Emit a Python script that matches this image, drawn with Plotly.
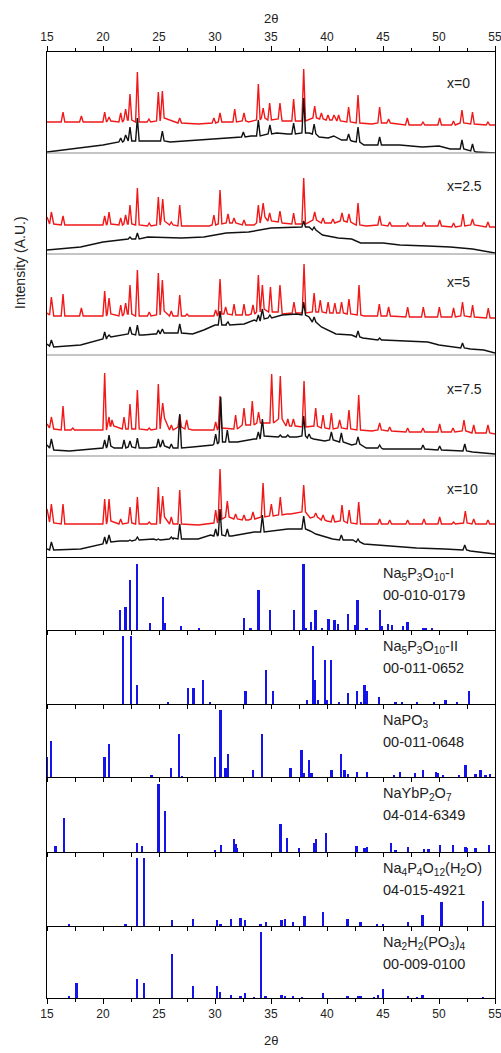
import plotly.graph_objects as go
from plotly.subplots import make_subplots

# ---------------- data ----------------
TICKS = [15, 20, 25, 30, 35, 40, 45, 50, 55]
SAMPLE_LABELS = ["x=0", "x=2.5", "x=5", "x=7.5", "x=10"]

# XRD traces: background points (2theta, I) and peaks (2theta, top, foot)
x0_red_bg = [(15.0, 31), (19.0, 31), (28.5, 29), (33.0, 31), (36.0, 32), (40.5, 32), (44.0, 29), (50.0, 29), (55.0, 28)]
x0_red_pk = [(16.43, 41, 31), (18.07, 37, 31), (20.15, 41, 31), (20.54, 36, 32), (21.58, 40, 31), (22.02, 44, 33),
             (22.41, 59, 33), (23.07, 81, 31), (24.1, 34, 31), (24.94, 61, 32), (25.3, 62, 35), (26.85, 35, 30),
             (29.9, 35, 30), (30.45, 40, 31), (31.76, 44, 31), (32.59, 40, 32), (33.87, 69, 33), (34.3, 45, 35),
             (34.88, 50, 33), (35.8, 50, 34), (37.02, 54, 32), (37.92, 84, 32), (38.9, 47, 35), (39.5, 40, 34),
             (40.09, 38, 33), (40.62, 38, 33), (41.04, 38, 32), (41.93, 46, 31), (42.77, 58, 30), (44.7, 46, 30),
             (45.5, 34, 30), (47.17, 35, 28), (48.57, 31, 28), (50.06, 35, 28), (51.29, 32, 28), (52.05, 43, 30),
             (52.99, 41, 29), (54.37, 31, 28)]
x0_blk_bg = [(15.0, 1), (18.0, 5), (20.0, 8), (21.5, 11), (23.5, 12), (26.0, 11), (28.6, 13), (31.5, 15), (33.2, 17),
             (35.5, 20), (36.5, 19), (38.4, 20), (39.3, 16), (40.1, 15), (40.6, 17), (41.3, 13), (42.2, 12), (43.3, 8),
             (44.3, 8), (46.5, 8), (48.5, 6), (50.0, 7), (51.0, 4), (53.3, 1), (55.0, 0)]
x0_blk_pk = [(21.58, 15, 11), (22.02, 18, 12), (22.41, 26, 12), (23.07, 35, 12), (25.3, 22, 12), (32.53, 21, 16),
             (33.87, 33, 17), (34.9, 28, 19), (37.02, 30, 19), (37.92, 55, 20), (38.85, 29, 19), (41.93, 19, 13),
             (42.77, 26, 11), (44.7, 16, 8), (52.05, 13, 4), (52.99, 9, 2)]

x25_red_bg = [(15.0, 37), (15.6, 30), (17.0, 29), (20.0, 28), (29.5, 28), (33.5, 29), (36.0, 31), (43.5, 28), (55.0, 27)]
x25_red_pk = [(15.39, 42, 30), (16.43, 38, 29), (20.15, 38, 29), (20.54, 42, 30), (21.58, 36, 29), (22.02, 39, 30),
              (22.41, 49, 30), (23.07, 66, 29), (24.13, 31, 28), (24.94, 57, 29), (25.33, 55, 33), (26.1, 32, 29),
              (26.85, 49, 28), (29.9, 39, 29), (30.45, 64, 30), (31.16, 40, 31), (31.7, 36, 31), (32.59, 34, 29),
              (33.87, 49, 31), (34.3, 51, 37), (34.88, 41, 33), (35.8, 43, 32), (37.02, 41, 30), (37.92, 76, 30),
              (38.9, 42, 34), (39.65, 36, 31), (40.53, 35, 31), (41.34, 41, 33), (41.96, 40, 32), (42.77, 51, 29),
              (44.7, 38, 29), (45.6, 32, 28), (47.2, 31, 28), (48.66, 32, 28), (50.06, 34, 28), (51.3, 31, 27),
              (52.14, 40, 28), (52.99, 35, 29), (54.37, 32, 27)]
x25_blk_bg = [(15.0, 4), (18.0, 7), (20.0, 12), (22.0, 15), (24.0, 17), (27.0, 16), (29.0, 17), (31.0, 21), (33.0, 22),
              (35.0, 26), (36.6, 27), (38.4, 27), (39.6, 19), (41.0, 16), (42.2, 15), (43.0, 11), (45.0, 11),
              (46.5, 9), (49.0, 8), (51.0, 7), (53.0, 5), (55.0, 1)]
x25_blk_pk = [(22.41, 17, 15), (23.07, 21, 15), (37.92, 33, 27), (38.85, 27, 24)]

x5_red_bg = [(15.0, 42), (15.6, 39), (17.0, 39), (30.0, 39), (33.0, 40), (36.0, 41), (39.0, 41), (43.3, 39), (55.0, 37)]
x5_red_pk = [(15.39, 58, 40), (16.43, 61, 39), (18.07, 47, 39), (20.15, 64, 39), (20.54, 57, 41), (21.58, 50, 39),
             (22.02, 52, 41), (22.41, 70, 41), (23.07, 85, 39), (24.13, 43, 39), (24.94, 82, 40), (25.3, 75, 44),
             (26.1, 44, 39), (26.85, 60, 39), (27.5, 41, 39), (30.06, 45, 39), (30.45, 76, 41), (30.95, 48, 41),
             (31.7, 51, 40), (32.59, 51, 40), (33.39, 50, 41), (33.87, 80, 43), (34.23, 70, 46), (34.95, 68, 43),
             (35.8, 70, 43), (37.05, 53, 42), (37.95, 91, 42), (38.85, 62, 43), (39.4, 55, 43), (40.1, 53, 42),
             (40.7, 52, 42), (41.3, 53, 42), (41.96, 56, 41), (42.86, 70, 40), (44.67, 51, 39), (45.5, 48, 39),
             (47.2, 48, 38), (48.6, 48, 38), (50.03, 48, 38), (51.3, 47, 38), (52.1, 53, 39), (53.0, 50, 38),
             (54.4, 47, 37)]
x5_blk_bg = [(15.0, 11), (15.6, 8), (18.0, 10), (20.0, 16), (21.2, 19), (22.0, 21), (23.6, 20), (24.6, 21), (26.2, 22),
             (28.0, 21), (29.0, 25), (30.0, 30), (31.0, 31), (32.6, 31), (33.5, 35), (35.0, 38), (36.0, 40),
             (37.3, 41), (38.4, 38), (39.0, 35), (39.5, 28), (40.8, 21), (42.2, 20), (43.2, 17), (45.0, 15),
             (47.0, 14), (49.0, 13), (50.0, 10), (51.5, 8), (52.8, 6), (54.0, 5), (55.0, 2)]
x5_blk_pk = [(15.39, 15, 9), (20.15, 23, 16), (20.54, 20, 18), (22.41, 28, 21), (23.07, 30, 20), (24.94, 25, 21),
             (25.3, 26, 22), (26.85, 31, 22), (30.45, 44, 30), (31.16, 33, 30), (33.87, 40, 34), (34.23, 46, 36),
             (34.9, 40, 37), (37.92, 53, 40), (38.85, 38, 33), (42.77, 24, 18), (44.7, 17, 15), (52.1, 12, 7)]

x75_red_bg = [(15.0, 32), (15.6, 27), (17.0, 26), (19.5, 26), (28.0, 26), (30.0, 27), (35.0, 29), (44.0, 25), (55.0, 22)]
x75_red_pk = [(15.39, 39, 28), (16.43, 50, 26), (17.3, 28, 26), (20.15, 83, 26), (20.54, 39, 30), (20.8, 36, 30),
              (21.88, 39, 27), (22.41, 52, 27), (23.07, 66, 27), (24.13, 28, 26), (24.94, 72, 27), (25.33, 53, 38),
              (26.1, 31, 26), (26.85, 41, 29), (27.47, 36, 27), (30.06, 34, 26), (30.45, 60, 28), (31.84, 41, 27),
              (32.59, 48, 31), (33.33, 55, 31), (33.89, 44, 33), (35.06, 82, 33), (35.83, 80, 37), (36.5, 37, 30),
              (37.0, 37, 30), (37.95, 75, 29), (38.99, 48, 30), (39.65, 41, 28), (40.39, 43, 27), (41.13, 36, 28),
              (41.96, 46, 27), (42.83, 61, 26), (44.7, 33, 26), (45.6, 29, 25), (47.2, 28, 24), (48.57, 28, 24),
              (50.06, 32, 24), (51.25, 28, 24), (52.23, 36, 25), (53.1, 31, 23), (54.37, 31, 23)]
x75_blk_bg = [(15.0, 11), (15.6, 6), (17.0, 5), (19.5, 7), (21.0, 8), (24.0, 8), (26.3, 8), (28.0, 9), (29.8, 11),
              (32.0, 14), (33.5, 17), (35.5, 19), (37.3, 19), (38.8, 17), (39.8, 15), (42.2, 11), (43.5, 8),
              (45.0, 7), (48.0, 7), (50.0, 6), (51.5, 5), (53.0, 4), (55.0, 2)]
x75_blk_pk = [(15.39, 17, 8), (20.15, 16, 8), (20.54, 21, 10), (21.88, 16, 8), (22.41, 15, 9), (23.07, 18, 8),
              (24.94, 17, 9), (25.33, 16, 10), (26.1, 12, 8), (26.85, 42, 8), (30.06, 22, 12), (30.51, 59, 14),
              (31.1, 26, 14), (33.87, 24, 17), (34.23, 37, 20), (35.83, 21, 19), (36.5, 21, 19), (37.92, 40, 20),
              (38.4, 22, 18), (40.39, 24, 16), (41.28, 23, 14), (42.77, 19, 12), (44.7, 11, 8), (48.57, 11, 7),
              (50.06, 10, 6), (52.3, 12, 5)]

x10_red_bg = [(15.0, 48), (15.6, 34), (17.0, 33), (20.0, 33), (28.5, 32), (30.0, 33), (33.0, 37), (36.5, 41),
              (38.5, 39), (40.0, 36), (44.0, 33), (55.0, 33)]
x10_red_pk = [(15.39, 53, 35), (16.43, 53, 33), (20.15, 58, 33), (20.54, 58, 36), (21.58, 38, 33), (22.41, 50, 34),
              (23.07, 60, 33), (24.13, 35, 33), (24.94, 70, 33), (25.33, 61, 40), (26.1, 40, 33), (26.85, 67, 33),
              (30.06, 47, 34), (30.45, 88, 38), (31.1, 56, 40), (31.84, 43, 38), (32.59, 42, 37), (33.39, 45, 38),
              (34.29, 74, 40), (35.03, 53, 41), (35.83, 60, 42), (36.58, 43, 43), (37.92, 72, 45), (38.99, 44, 40),
              (39.65, 42, 37), (40.53, 42, 35), (41.34, 52, 36), (41.98, 47, 34), (42.83, 55, 33), (44.7, 38, 33),
              (45.6, 37, 33), (47.2, 37, 33), (48.66, 38, 33), (50.06, 40, 33), (51.3, 35, 33), (52.35, 46, 34),
              (53.1, 38, 33), (54.37, 37, 33)]
x10_blk_bg = [(15.0, 8), (15.6, 7), (18.0, 8), (20.0, 13), (21.5, 16), (22.8, 17), (24.5, 18), (26.3, 19), (28.5, 18),
              (29.6, 22), (31.5, 21), (33.5, 25), (35.0, 26), (36.5, 28), (37.5, 28), (38.5, 26), (39.0, 23),
              (40.5, 18), (42.3, 17), (43.3, 13), (45.5, 11), (48.0, 9), (50.5, 8), (52.8, 6), (55.0, 3)]
x10_blk_pk = [(15.39, 15, 7), (20.15, 20, 13), (20.54, 22, 15), (22.41, 17, 16), (23.07, 20, 17), (24.94, 18, 17),
              (26.1, 20, 18), (26.85, 33, 18), (30.06, 28, 21), (30.45, 48, 22), (31.1, 28, 21), (34.23, 42, 25),
              (37.92, 41, 28), (41.28, 22, 17), (42.77, 18, 15), (52.3, 12, 7)]

# Reference patterns (stick positions and relative intensities)
na5_I_pos = [21.55, 22.02, 22.44, 23.07, 24.2, 25.39, 25.5, 27.0, 28.6, 32.59, 33.18, 33.9, 34.94, 37.08, 37.92,
             38.1, 38.6, 38.99, 39.6, 40.15, 40.7, 40.98, 41.9, 42.5, 42.74, 43.54, 44.73, 44.94, 45.45, 45.83,
             46.8, 47.2, 48.57, 48.8, 49.4]
na5_I_int = [27, 31, 69, 91, 9, 45, 9, 6, 3, 17, 3, 55, 27, 27, 91, 3, 11, 27, 3, 15, 14, 8, 22, 7, 41, 3, 27, 5, 8, 7,
             6, 11, 2, 2, 2]
na5_II_pos = [21.82, 22.53, 23.07, 25.8, 27.59, 28.12, 28.93, 29.6, 32.74, 34.58, 35.18, 38.24, 38.75, 38.9, 39.2,
              39.82, 39.97, 40.39, 41.08, 41.88, 42.71, 43.07, 43.36, 43.6, 44.64, 46.13, 46.73, 48.07, 49.55,
              50.6, 51.64, 52.68]
na5_II_int = [92, 92, 26, 3, 22, 22, 32, 2, 18, 46, 18, 6, 78, 32, 6, 59, 6, 59, 3, 15, 18, 3, 26, 17, 10, 2, 3, 3, 3,
              6, 3, 18]
napo3_pos = [15.03, 15.39, 20.15, 20.54, 24.35, 26.1, 26.79, 27.08, 30.03, 30.51, 30.95, 31.16, 33.42, 34.23, 36.76,
             37.74, 37.92, 38.39, 38.63, 40.42, 41.25, 41.58, 41.88, 42.71, 43.6, 45.98, 46.52, 47.86, 48.6, 49.73,
             49.94, 50.39, 51.8, 52.38, 53.27, 53.72, 54.17, 54.6]
napo3_int = [28, 50, 28, 45, 3, 13, 59, 1, 28, 92, 12, 31, 9, 59, 12, 37, 5, 23, 5, 9, 31, 9, 4, 7, 7, 2, 7, 5, 9, 7, 5,
             2, 2, 17, 4, 9, 2, 4]
naybp2o7_pos = [15.77, 16.52, 23.07, 23.51, 24.97, 25.54, 30.0, 30.57, 31.7, 31.85, 32.0, 35.86, 36.43, 37.53, 38.84,
                39.05, 39.94, 42.65, 43.36, 43.6, 45.74, 46.13, 47.23, 48.66, 49.1, 50.09, 51.28, 52.38, 52.53,
                53.27, 54.46]
naybp2o7_int = [8, 45, 12, 8, 91, 55, 2, 10, 18, 11, 6, 37, 19, 5, 12, 17, 26, 8, 6, 7, 12, 2, 7, 4, 4, 9, 10, 7, 5, 5, 10]
na4p4_pos = [16.96, 22.02, 23.07, 23.66, 26.19, 28.07, 30.21, 30.5, 31.46, 32.29, 32.68, 34.08, 34.58, 35.95, 36.28,
             36.99, 38.0, 39.67, 41.87, 43.0, 44.49, 45.03, 47.23, 48.54, 50.24, 53.96]
na4p4_int = [2, 2, 92, 92, 8, 9, 8, 2, 9, 11, 8, 3, 5, 8, 9, 5, 14, 19, 9, 5, 3, 3, 6, 15, 33, 34]
na2h2_pos = [16.96, 17.65, 23.07, 23.66, 26.19, 28.07, 30.21, 30.45, 31.46, 32.29, 32.68, 33.48, 34.14, 34.52, 35.95,
             36.28, 36.99, 37.8, 39.67, 41.87, 42.79, 43.0, 44.2, 44.55, 45.03, 47.23, 48.07, 48.54, 53.96]
na2h2_int = [2, 21, 26, 21, 61, 17, 17, 9, 4, 3, 7, 1, 91, 2, 4, 2, 2, 1, 7, 2, 2, 2, 1, 4, 12, 2, 1, 4, 1]

PHASE_NAMES = ["Na<sub>5</sub>P<sub>3</sub>O<sub>10</sub>-I", "Na<sub>5</sub>P<sub>3</sub>O<sub>10</sub>-II",
               "NaPO<sub>3</sub>", "NaYbP<sub>2</sub>O<sub>7</sub>",
               "Na<sub>4</sub>P<sub>4</sub>O<sub>12</sub>(H<sub>2</sub>O)",
               "Na<sub>2</sub>H<sub>2</sub>(PO<sub>3</sub>)<sub>4</sub>"]
PHASE_CARDS = ["00-010-0179", "00-011-0652", "00-011-0648", "04-014-6349", "04-015-4921", "00-009-0100"]

# ---------------- layout / style ----------------
W_IMG, H_IMG = 501, 1053
EDGES = [52, 153, 254, 355, 456, 557, 630, 704, 777, 852, 926, 998]
LEFT, RIGHT = 47, 495
heights = [EDGES[i + 1] - EDGES[i] for i in range(11)]
RED = "#f01818"
BLACK = "#111111"
BLUE = "#1414e8"
FONT = "Liberation Sans, Arial, sans-serif"
HALF_W = 0.16


def profile(bg, pk):
    pts = [(x, y) for x, y in bg if all(abs(x - p) >= HALF_W for p, _, _ in pk)]
    for p, top, foot in pk:
        pts += [(p - HALF_W, foot), (p, top), (p + HALF_W, foot)]
    pts.sort()
    return [a for a, _ in pts], [b for _, b in pts]


fig = make_subplots(rows=11, cols=1, shared_xaxes=True, vertical_spacing=0, row_heights=heights)

xrd = [(x0_red_bg, x0_red_pk, x0_blk_bg, x0_blk_pk),
       (x25_red_bg, x25_red_pk, x25_blk_bg, x25_blk_pk),
       (x5_red_bg, x5_red_pk, x5_blk_bg, x5_blk_pk),
       (x75_red_bg, x75_red_pk, x75_blk_bg, x75_blk_pk),
       (x10_red_bg, x10_red_pk, x10_blk_bg, x10_blk_pk)]
for i, (rb, rp, bb, bp) in enumerate(xrd):
    xs, ys = profile(rb, rp)
    fig.add_trace(go.Scatter(x=xs, y=ys, mode="lines", line=dict(color=RED, width=1.4), showlegend=False),
                  row=i + 1, col=1)
    xs, ys = profile(bb, bp)
    fig.add_trace(go.Scatter(x=xs, y=ys, mode="lines", line=dict(color=BLACK, width=1.4), showlegend=False),
                  row=i + 1, col=1)
    fig.update_yaxes(range=[0, heights[i]], row=i + 1, col=1)

sticks = [(na5_I_pos, na5_I_int), (na5_II_pos, na5_II_int), (napo3_pos, napo3_int),
          (naybp2o7_pos, naybp2o7_int), (na4p4_pos, na4p4_int), (na2h2_pos, na2h2_int)]
for j, (pos, inten) in enumerate(sticks):
    fig.add_trace(go.Bar(x=pos, y=inten, width=0.17, marker=dict(color=BLUE, line=dict(width=0)),
                         showlegend=False), row=6 + j, col=1)
    fig.update_yaxes(range=[0, 100], row=6 + j, col=1)

fig.update_yaxes(showline=True, mirror=True, linecolor="black", linewidth=1, ticks="", showticklabels=False,
                 showgrid=False, zeroline=False, automargin=False)
fig.update_xaxes(range=[15, 55], tickvals=TICKS, showgrid=False, zeroline=False, showticklabels=False,
                 showline=False, ticks="", automargin=False, ticklabeloverflow="allow")

tickfont = dict(family=FONT, size=12, color="#222")
# top axis
fig.update_xaxes(side="top", showline=True, linecolor="black", linewidth=1, ticks="outside", ticklen=5,
                 tickcolor="black", showticklabels=True, tickfont=tickfont,
                 minor=dict(dtick=2.5, tick0=15, ticks="outside", ticklen=3, tickcolor="black"), row=1, col=1)
# bottom of last XRD panel
fig.update_xaxes(showline=True, linecolor="black", linewidth=1, row=5, col=1)
# stick panels
for r in range(6, 11):
    fig.update_xaxes(showline=True, linecolor="black", linewidth=1, ticks="outside", ticklen=4,
                     tickcolor="black", minor=dict(dtick=2.5, tick0=15, ticks="outside", ticklen=4,
                                                   tickcolor="black"), row=r, col=1)
fig.update_xaxes(showline=True, linecolor="black", linewidth=1, ticks="outside", ticklen=5, tickcolor="black",
                 showticklabels=True, tickfont=tickfont,
                 minor=dict(dtick=2.5, tick0=15, ticks="outside", ticklen=3, tickcolor="black"), row=11, col=1)

# gray separators between XRD panels
for r in range(1, 5):
    xr = "x" if r == 1 else f"x{r}"
    yr = "y" if r == 1 else f"y{r}"
    fig.add_shape(type="line", xref=f"{xr} domain", yref=f"{yr} domain", x0=0, x1=1, y0=0, y1=0,
                  line=dict(color="#8a8a8a", width=1))

# sample labels
label_offsets = [31, 33, 28, 34, 33]
for i, lab in enumerate(SAMPLE_LABELS):
    yr = "y" if i == 0 else f"y{i + 1}"
    fig.add_annotation(text=lab, xref="paper", x=(445 - LEFT) / (RIGHT - LEFT), xanchor="left",
                       yref=f"{yr} domain", y=1 - label_offsets[i] / heights[i], yanchor="middle",
                       showarrow=False, font=dict(family=FONT, size=14, color="#222"))

# phase labels
for j in range(6):
    r = 6 + j
    for off, txt in ((17, PHASE_NAMES[j]), (38, PHASE_CARDS[j])):
        fig.add_annotation(text=txt, xref="paper", x=(381 - LEFT) / (RIGHT - LEFT), xanchor="left",
                           yref=f"y{r} domain", y=1 - off / heights[r - 1], yanchor="middle",
                           showarrow=False, font=dict(family=FONT, size=14.5, color="#222"))

plot_h = EDGES[-1] - EDGES[0]
fig.add_annotation(text="2θ", xref="paper", x=0.5, yref="paper", y=(EDGES[-1] - 18) / plot_h,
                   xanchor="center", yanchor="middle", showarrow=False, font=dict(family=FONT, size=13, color="#222"))
fig.add_annotation(text="2θ", xref="paper", x=0.5, yref="paper", y=(EDGES[-1] - 1040) / plot_h,
                   xanchor="center", yanchor="middle", showarrow=False, font=dict(family=FONT, size=13, color="#222"))
fig.add_annotation(text="Intensity (A.U.)", xref="paper", x=(20 - LEFT) / (RIGHT - LEFT), yref="paper",
                   y=(EDGES[-1] - 263) / plot_h, textangle=-90, xanchor="center", yanchor="middle",
                   showarrow=False, font=dict(family=FONT, size=14, color="#222"))

fig.update_layout(width=W_IMG, height=H_IMG, margin=dict(l=LEFT, r=W_IMG - RIGHT, t=EDGES[0], b=H_IMG - EDGES[-1],
                                                         autoexpand=False),
                  paper_bgcolor="white", plot_bgcolor="white", showlegend=False, bargap=0)

fig.write_html("out.html", config={"displayModeBar": False})

# remove the browser's default page margin so the figure sits at the window's top-left corner
with open("out.html", encoding="utf-8") as f:
    html = f.read()
html = html.replace("<head>", "<head><style>html,body{margin:0;padding:0;overflow:hidden;}</style>", 1)
with open("out.html", "w", encoding="utf-8") as f:
    f.write(html)
